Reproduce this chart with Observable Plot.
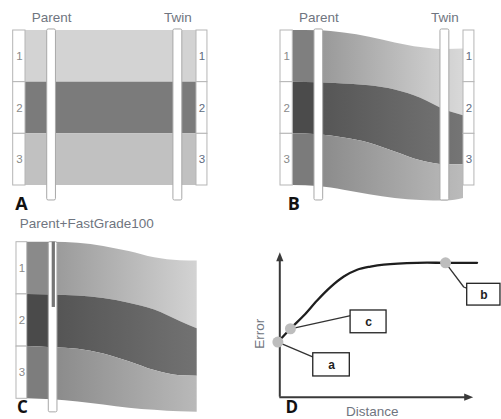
<!DOCTYPE html>
<html><head><meta charset="utf-8">
<script src="https://cdn.jsdelivr.net/npm/d3@7"></script>
<script src="https://cdn.jsdelivr.net/npm/@observablehq/plot@0.6"></script>
<style>
html,body{margin:0;padding:0;background:#fff;}
#fig{position:relative;width:501px;height:419px;overflow:hidden;background:#fff;}
#fig svg{position:absolute;overflow:visible;}
</style></head><body><div id="fig"></div>
<script>
// ---------- data ----------
const layerNames = ["1", "2", "3"];
const wellNames = ["Parent", "Twin"];
const horizonsA = [0, 1, 2, 3];                       // flat layer boundaries (depth in layer units)
const traceT = [0, 0.15, 0.3, 0.45, 0.6, 0.75, 0.9, 1]; // normalised trace position
const horizonsB = [
  [0.00, 0.005, 0.05, 0.13, 0.24, 0.33, 0.37, 0.36],
  [1.00, 1.01, 1.035, 1.07, 1.15, 1.31, 1.55, 1.65],
  [2.00, 2.02, 2.08, 2.18, 2.35, 2.52, 2.60, 2.60],
  [3.00, 3.02, 3.09, 3.18, 3.25, 3.29, 3.30, 3.25]
];
const horizonsC = [
  [0.00, 0.00, 0.02, 0.08, 0.18, 0.30, 0.355, 0.36],
  [1.00, 1.01, 1.03, 1.08, 1.17, 1.30, 1.52, 1.66],
  [2.00, 2.02, 2.05, 2.14, 2.29, 2.46, 2.56, 2.57],
  [3.00, 3.02, 3.06, 3.12, 3.18, 3.22, 3.25, 3.26]
];
const gradeFraction = 1.25;   // FastGrade progress (depth reached)
const curveDistance = [-0.01, 0.055, 0.124, 0.193, 0.262, 0.331, 0.40, 0.469, 0.538, 0.71, 0.857, 1.02];
const curveError    = [0.38, 0.472, 0.563, 0.667, 0.759, 0.832, 0.879, 0.901, 0.915, 0.927, 0.927, 0.927];
const pointLabels = ["a", "c", "b"];
const pointDistance = [-0.01, 0.055, 0.857];
const pointError = [0.38, 0.472, 0.927];
const boxDistance = [[0.173, 0.362], [0.366, 0.552], [0.969, 1.141]];
const boxError = [[0.143, 0.303], [0.441, 0.598], [0.632, 0.782]];
const leaderDistance = [[-0.01, 0.173], [0.055, 0.366], [0.857, 0.951, 0.969]];
const leaderError = [[0.38, 0.276], [0.472, 0.563], [0.927, 0.76, 0.75]];

// ---------- styles ----------
const FONT = "Liberation Sans, Arial, sans-serif";
const LABEL = "#6f7580";
const shadesA = ["#d3d3d3", "#7b7b7b", "#c1c1c1"];
const shadesB = [["#7f7f7f", "#979797", "#d9d9d9"], ["#4b4b4b", "#555555", "#757575"], ["#7b7b7b", "#8a8a8a", "#bbbbbb"]];
const shadesC = [["#8a8a8a", "#999999", "#d3d3d3"], ["#4a4a4a", "#545454", "#727272"], ["#7d7d7d", "#8a8a8a", "#b9b9b9"]];
const BARS = {Parent: [0.127, 0.178], Twin: [0.865, 0.917]};
const fig = document.getElementById("fig");

function place(svg, left, top) {
  svg.style.left = left + "px"; svg.style.top = top + "px";
  svg.style.background = "transparent";
  fig.appendChild(svg);
}
function cells(x1, x2) { return layerNames.map((name, i) => ({name, x1, x2, y1: i, y2: i + 1})); }
function bandRows(h) {
  const rows = [];
  layerNames.forEach((n, b) => traceT.forEach((t, j) => rows.push({band: b, t, top: h[b][j], bottom: h[b + 1][j]})));
  return rows;
}
function columnMarks(x1, x2, color) {
  const c = cells(x1, x2);
  return [
    Plot.rect(c, {x1: "x1", x2: "x2", y1: "y1", y2: "y2", fill: "white", stroke: "#b5b5b5", strokeWidth: 1}),
    Plot.text(c, {x: d => (d.x1 + d.x2) / 2, y: d => (d.y1 + d.y2) / 2, text: "name", fontSize: 11.5, fill: color, lineAnchor: "middle"})
  ];
}
function wellMarks(names, yTop, yBottom) {
  return [
    Plot.rect(names, {x1: d => BARS[d][0], x2: d => BARS[d][1], y1: yTop, y2: yBottom, fill: "white", stroke: "#a8a8a8", strokeWidth: 1, rx: 1.5})
  ];
}
function wellLabels(names) {
  return Plot.text(names, {x: d => (BARS[d][0] + BARS[d][1]) / 2, y: -0.25, text: d => d, fontSize: 13.5, fill: LABEL, lineAnchor: "middle"});
}
function letter(ch, x, y, size) {
  return Plot.text([ch], {x, y, text: d => d, textAnchor: "start", lineAnchor: "bottom", fontSize: size, fontWeight: 700, fontFamily: "Open Sans", fill: "#111"});
}
function addGradients(svg, id, shades) {
  const defs = d3.select(svg).insert("defs", ":first-child");
  shades.forEach((s, b) => {
    const g = defs.append("linearGradient").attr("id", id + b).attr("x1", 0).attr("x2", 1).attr("y1", 0).attr("y2", 0);
    [[0, s[0]], [0.15, s[0]], [0.15, s[1]], [1, s[2]]].forEach(([o, c]) => g.append("stop").attr("offset", o).attr("stop-color", c));
  });
}
function bandAreas(h, id) {
  const rows = bandRows(h);
  return layerNames.map((n, b) => Plot.areaY(rows.filter(d => d.band === b),
    {x: "t", y1: "top", y2: "bottom", curve: "monotone-x", fill: `url(#${id}${b})`}));
}
const common = {
  x: {domain: [0, 1], axis: null},
  y: {domain: [0, 3], reverse: true, axis: null},
  color: {type: "identity"},
  style: {fontFamily: FONT, background: "transparent", overflow: "visible"}
};

// ---------- Panel A ----------
const svgA = Plot.plot({
  ...common, width: 250, height: 210, marginLeft: 25, marginRight: 54, marginTop: 30, marginBottom: 25,
  marks: [
    Plot.rect(layerNames, {x1: 0, x2: 1, y1: (d, i) => horizonsA[i], y2: (d, i) => horizonsA[i + 1], fill: (d, i) => shadesA[i]}),
    ...columnMarks(-0.072, 0, "#8a8a8a"),
    ...columnMarks(1, 1.064, "#5e6b80"),
    ...wellMarks(wellNames, -0.02, 3.29),
    wellLabels(wellNames),
    letter("A", -0.06, 3.48, 18)
  ]
});
place(svgA, 0, 0);

// ---------- Panel B ----------
const svgB = Plot.plot({
  ...common, width: 251, height: 210, marginLeft: 42.3, marginRight: 38, marginTop: 30, marginBottom: 25,
  marks: [
    ...bandAreas(horizonsB, "gB"),
    ...columnMarks(-0.072, 0, "#8a8a8a"),
    ...columnMarks(1, 1.064, "#5e6b80"),
    ...wellMarks(wellNames, -0.02, 3.29),
    wellLabels(wellNames),
    letter("B", -0.03, 3.48, 18)
  ]
});
addGradients(svgB, "gB", shadesB);
place(svgB, 250, 0);

// ---------- Panel C ----------
const svgC = Plot.plot({
  ...common, width: 250, height: 209, marginLeft: 26.7, marginRight: 53.3, marginTop: 31.7, marginBottom: 20.7,
  marks: [
    ...bandAreas(horizonsC, "gC"),
    ...columnMarks(-0.063, 0, "#8a8a8a"),
    ...wellMarks(["Parent"], 0, 3.26),
    Plot.rect([gradeFraction], {x1: 0.147, x2: 0.166, y1: 0, y2: d => d, fill: "#767676"}),
    Plot.text(["Parent+FastGrade100"], {x: -0.044, y: -0.36, text: d => d, textAnchor: "start", lineAnchor: "middle", fontSize: 13.5, fill: LABEL}),
    letter("C", -0.06, 3.28, 17)
  ]
});
addGradients(svgC, "gC", shadesC);
place(svgC, 0, 210);

// ---------- Panel D ----------
const arrowUp = {draw(ctx, size) { const r = Math.sqrt(size / Math.PI); ctx.moveTo(0, -r); ctx.lineTo(-0.8 * r, r); ctx.lineTo(0.8 * r, r); ctx.closePath(); }};
const arrowRight = {draw(ctx, size) { const r = Math.sqrt(size / Math.PI); ctx.moveTo(r, 0); ctx.lineTo(-r, -0.8 * r); ctx.lineTo(-r, 0.8 * r); ctx.closePath(); }};
const curve = curveDistance.map((x, i) => ({x, y: curveError[i]}));
const points = pointLabels.map((label, i) => ({label, x: pointDistance[i], y: pointError[i]}));
const boxes = pointLabels.map((label, i) => ({label, x1: boxDistance[i][0], x2: boxDistance[i][1], y1: boxError[i][0], y2: boxError[i][1]}));
const leaders = pointLabels.flatMap((label, i) => leaderDistance[i].map((x, j) => ({label, x, y: leaderError[i][j]})));
const AX = "#3a3a3a";
const svgD = Plot.plot({
  width: 251, height: 209, marginLeft: 29.3, marginRight: 28.3, marginTop: 41.7, marginBottom: 22.3,
  x: {domain: [0, 1], axis: null}, y: {domain: [0, 1], axis: null},
  style: {fontFamily: FONT, background: "transparent", overflow: "visible"},
  marks: [
    Plot.ruleX([0], {y1: 0, y2: 0.97, stroke: AX, strokeWidth: 2}),
    Plot.ruleY([0], {x1: 0, x2: 0.975, stroke: AX, strokeWidth: 2}),
    Plot.dot([0], {x: 0, y: 1, symbol: arrowUp, r: 4.5, dy: 4.5, fill: AX, stroke: "none"}),
    Plot.dot([0], {x: 1, y: 0, symbol: arrowRight, r: 4.5, dx: -4.5, fill: AX, stroke: "none"}),
    Plot.line(leaders, {x: "x", y: "y", z: "label", stroke: "#333", strokeWidth: 1.3}),
    Plot.line(curve, {x: "x", y: "y", curve: "catmull-rom", stroke: "#1e1e1e", strokeWidth: 2.3}),
    Plot.rect(boxes, {x1: "x1", x2: "x2", y1: "y1", y2: "y2", fill: "white", stroke: "#222", strokeWidth: 1.3}),
    Plot.text(boxes, {x: d => (d.x1 + d.x2) / 2, y: d => (d.y1 + d.y2) / 2, text: "label", fontSize: 12, fontWeight: 700, fill: "#222", lineAnchor: "middle"}),
    Plot.dot(points, {x: "x", y: "y", r: 5.5, fill: "#bdbdbd", stroke: "none"}),
    Plot.text(["Error"], {x: -0.103, y: 0.437, text: d => d, rotate: -90, fontSize: 13.5, fill: LABEL, lineAnchor: "middle"}),
    Plot.text(["Distance"], {x: 0.478, y: -0.103, text: d => d, fontSize: 13.5, fill: LABEL, lineAnchor: "middle"}),
    letter("D", 0.03, -0.112, 17)
  ]
});
place(svgD, 250, 210);
</script></body></html>
